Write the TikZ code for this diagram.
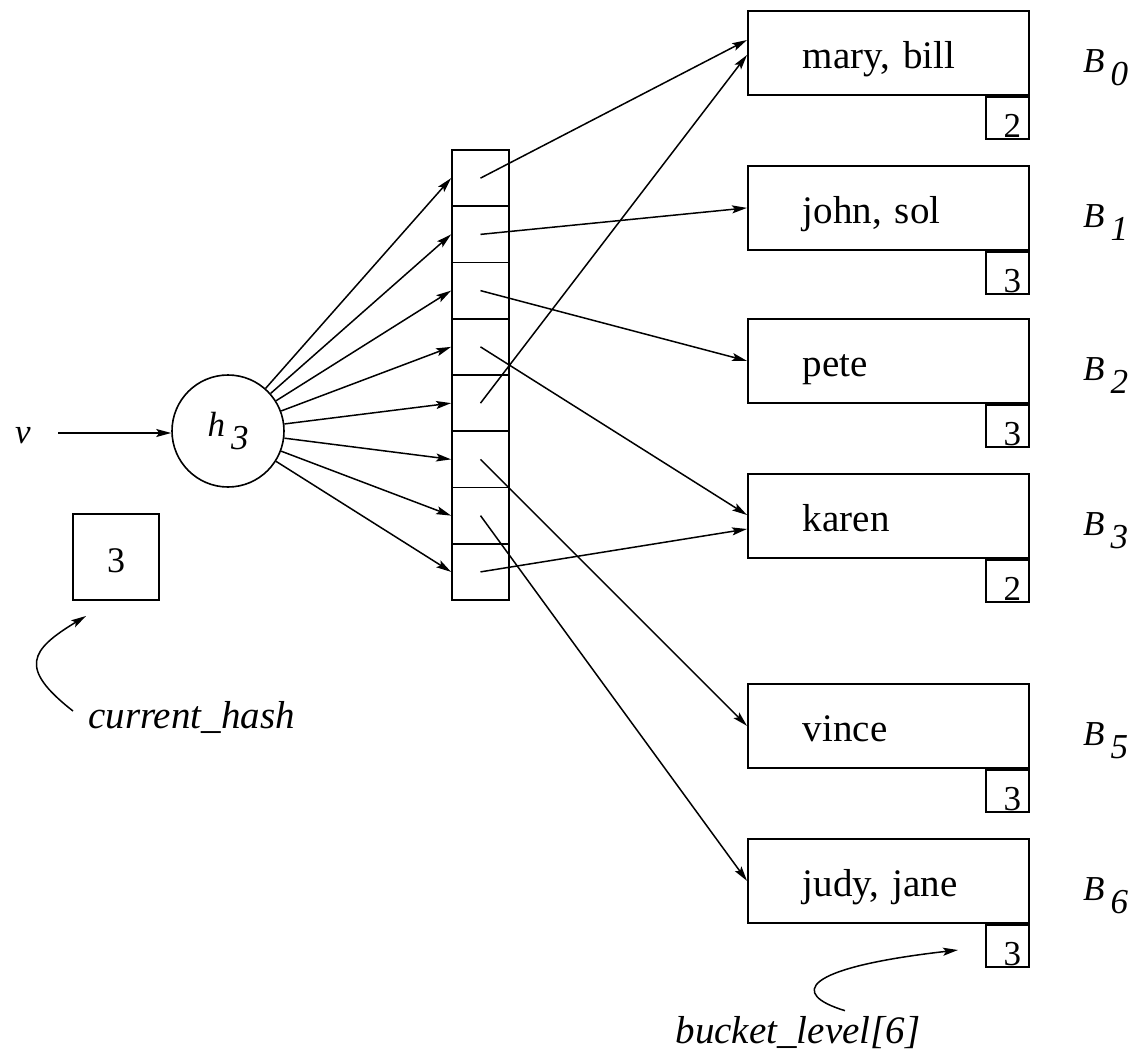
\documentclass[tikz,border=0pt]{standalone}
\usepackage{fontspec}
\setmainfont{Liberation Serif}
\usetikzlibrary{arrows.meta,calc}

\tikzset{
  arr/.style={line width=1.5pt,-{Stealth[length=15pt,width=8pt,inset=3pt]}},
  cellbox/.style={draw,line width=1.8pt,minimum width=57pt,minimum height=56.25pt,inner sep=0pt},
  bucketbox/.style={draw,line width=1.8pt,minimum height=84pt,text width=171pt,inner xsep=55pt,inner ysep=0pt,align=left,
    text height=32pt,text depth=0pt,font=\fontsize{39}{41}\selectfont},
  levelbox/.style={draw,line width=1.8pt,minimum width=43pt,minimum height=42pt,inner sep=0pt,anchor=north east},
  levtext/.style={font=\fontsize{35}{37}\selectfont,inner sep=0pt,anchor=south},
  blabel/.style={anchor=west,font=\fontsize{35}{37}\selectfont\itshape,inner sep=0pt},
  itlabel/.style={font=\fontsize{39}{41}\selectfont\itshape,inner sep=0pt}
}

\newcommand{\subsc}[2]{#1\hspace{6pt}\raisebox{-13pt}{#2}}

\begin{document}
\begin{tikzpicture}[x=1pt,y=-1pt]
\useasboundingbox (0,0) rectangle (1132,1057);

% input value and hash function
\node[itlabel,font=\fontsize{35}{37}\selectfont\itshape] (v) at (23,436) {v};
\node[draw,circle,line width=1.6pt,minimum size=112pt,inner sep=0pt,
      font=\fontsize{35}{37}\selectfont\itshape] (h) at (228,431) {\subsc{h}{3}\hspace{-14pt}};
\coordinate (vs) at (58,433);
\draw[arr] (vs) -- (vs -| h.west);

% current hash depth
\node[draw,line width=1.8pt,minimum width=86pt,minimum height=86pt,inner sep=0pt,
      text height=30pt,text depth=0pt,
      font=\fontsize{36}{38}\selectfont] (cur) at (116,557) {3\hspace{-12pt}};
\node[itlabel,anchor=west] (ch) at (88,717) {current\_hash};
\coordinate (curtip) at (86,616);
\draw[arr] ($(ch.west)+(-15,-6)$) .. controls (18,668) and (30,650) .. (curtip);

% directory
\foreach \i in {0,...,7}{
  \node[cellbox] (c\i) at (480.5,{150+56.25*(\i+0.5)}) {};
  \draw[arr] (h) -- (c\i.west);
}

% buckets with their local depths
\foreach \n/\y/\txt/\lev in {0/10/{mary, bill}/2, 1/165/{john, sol}/3, 2/318/pete/3,
                             3/473/karen/2, 5/683/vince/3, 6/838/{judy, jane}/3}{
  \node[bucketbox,anchor=north west] (b\n) at (747,\y) {\txt};
  \node[levelbox] (l\n) at (b\n.south east) {};
  \node[levtext] at ([xshift=5pt,yshift=2pt]l\n.south) {\lev};
  \node[blabel] (bl\n) at ($(b\n.west)+(336,15)$) {\subsc{B}{\n}};
}

% directory pointers
\draw[arr] (c0.center) -- ($(b0.north west)+(0,30)$);
\draw[arr] (c1.center) -- (b1.west);
\draw[arr] (c2.center) -- (b2.west);
\draw[arr] (c3.center) -- ($(b3.north west)+(0,42)$);
\draw[arr] (c4.center) -- ($(b0.north west)+(0,45)$);
\draw[arr] (c5.center) -- (b5.west);
\draw[arr] (c6.center) -- (b6.west);
\draw[arr] (c7.center) -- ($(b3.north west)+(0,56)$);

% bucket level annotation
\node[itlabel] (bl) at (798,1033) {bucket\_level[6]};
\coordinate (bltip) at (958,950);
\draw[arr] ($(bl.north)+(47,-6)$) .. controls (790,994) and (800,968) .. (bltip);
\end{tikzpicture}
\end{document}
